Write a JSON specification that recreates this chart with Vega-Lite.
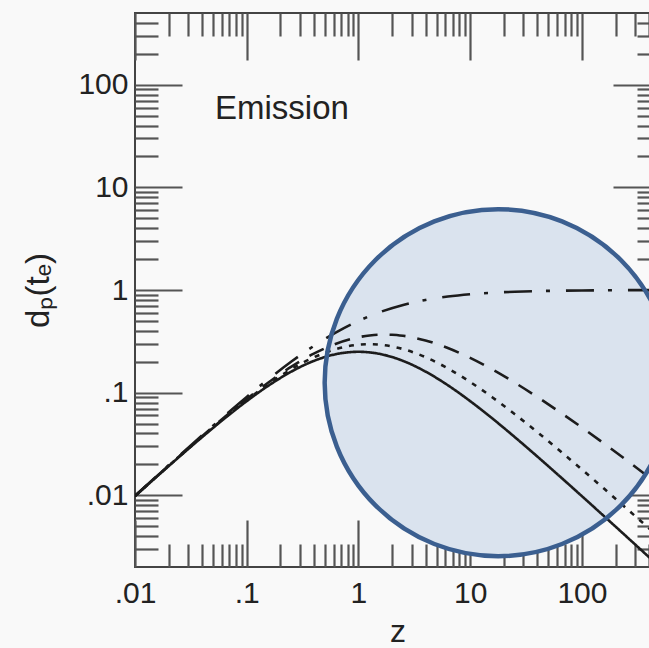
{
  "$schema": "https://vega.github.io/schema/vega-lite/v6.json",
  "autosize": "none",
  "width": 525,
  "height": 554,
  "padding": {"left": 135, "top": 13, "right": 0, "bottom": 81},
  "background": "#f9f9f9",
  "config": {
    "view": {"stroke": "#444444", "strokeWidth": 2},
    "axis": {
      "grid": false,
      "domain": false,
      "tickColor": "#555555",
      "tickWidth": 2.2,
      "labelFont": "Liberation Sans",
      "labelFontSize": 30,
      "labelColor": "#222222",
      "labelFlush": false,
      "labelOverlap": false,
      "titleFont": "Liberation Sans",
      "titleFontWeight": "normal",
      "titleColor": "#222222",
      "zindex": 1
    }
  },
  "datasets": {
    "curves": [
      {"z": 0.01, "d": 0.009803, "model": "radiation"},
      {"z": 0.015849, "d": 0.015359, "model": "radiation"},
      {"z": 0.025119, "d": 0.023904, "model": "radiation"},
      {"z": 0.039811, "d": 0.036821, "model": "radiation"},
      {"z": 0.063096, "d": 0.055829, "model": "radiation"},
      {"z": 0.1, "d": 0.082645, "model": "radiation"},
      {"z": 0.158489, "d": 0.118091, "model": "radiation"},
      {"z": 0.251189, "d": 0.160455, "model": "radiation"},
      {"z": 0.398107, "d": 0.203666, "model": "radiation"},
      {"z": 0.630957, "d": 0.237201, "model": "radiation"},
      {"z": 1, "d": 0.25, "model": "radiation"},
      {"z": 1.584893, "d": 0.237201, "model": "radiation"},
      {"z": 2.511886, "d": 0.203667, "model": "radiation"},
      {"z": 3.981072, "d": 0.160455, "model": "radiation"},
      {"z": 6.309573, "d": 0.118091, "model": "radiation"},
      {"z": 10, "d": 0.082645, "model": "radiation"},
      {"z": 15.848932, "d": 0.055829, "model": "radiation"},
      {"z": 25.118864, "d": 0.036821, "model": "radiation"},
      {"z": 39.810717, "d": 0.023903, "model": "radiation"},
      {"z": 63.095734, "d": 0.015358, "model": "radiation"},
      {"z": 100, "d": 0.009803, "model": "radiation"},
      {"z": 158.489319, "d": 0.006231, "model": "radiation"},
      {"z": 251.188643, "d": 0.00395, "model": "radiation"},
      {"z": 398.107171, "d": 0.002499, "model": "radiation"},
      {"z": 500, "d": 0.001992, "model": "radiation"},

      {"z": 0.01, "d": 0.009828, "model": "matter"},
      {"z": 0.015849, "d": 0.01542, "model": "matter"},
      {"z": 0.025119, "d": 0.024052, "model": "matter"},
      {"z": 0.039811, "d": 0.03718, "model": "matter"},
      {"z": 0.063096, "d": 0.056684, "model": "matter"},
      {"z": 0.1, "d": 0.084613, "model": "matter"},
      {"z": 0.158489, "d": 0.122432, "model": "matter"},
      {"z": 0.251189, "d": 0.169436, "model": "matter"},
      {"z": 0.398107, "d": 0.220693, "model": "matter"},
      {"z": 0.630957, "d": 0.266063, "model": "matter"},
      {"z": 1, "d": 0.292893, "model": "matter"},
      {"z": 1.258925, "d": 0.296293, "model": "matter"},
      {"z": 1.584893, "d": 0.292481, "model": "matter"},
      {"z": 2.511886, "d": 0.265602, "model": "matter"},
      {"z": 3.981072, "d": 0.221614, "model": "matter"},
      {"z": 6.309573, "d": 0.172411, "model": "matter"},
      {"z": 10, "d": 0.126998, "model": "matter"},
      {"z": 15.848932, "d": 0.089784, "model": "matter"},
      {"z": 25.118864, "d": 0.06159, "model": "matter"},
      {"z": 39.810717, "d": 0.041335, "model": "matter"},
      {"z": 63.095734, "d": 0.027306, "model": "matter"},
      {"z": 100, "d": 0.017832, "model": "matter"},
      {"z": 158.489319, "d": 0.011547, "model": "matter"},
      {"z": 251.188643, "d": 0.007431, "model": "matter"},
      {"z": 398.107171, "d": 0.00476, "model": "matter"},
      {"z": 500, "d": 0.003814, "model": "matter"},

      {"z": 0.01, "d": 0.009852, "model": "curvature"},
      {"z": 0.015849, "d": 0.01548, "model": "curvature"},
      {"z": 0.025119, "d": 0.024201, "model": "curvature"},
      {"z": 0.039811, "d": 0.037544, "model": "curvature"},
      {"z": 0.063096, "d": 0.057554, "model": "curvature"},
      {"z": 0.1, "d": 0.086646, "model": "curvature"},
      {"z": 0.158489, "d": 0.126988, "model": "curvature"},
      {"z": 0.251189, "d": 0.179104, "model": "curvature"},
      {"z": 0.398107, "d": 0.239695, "model": "curvature"},
      {"z": 0.630957, "d": 0.299926, "model": "curvature"},
      {"z": 1, "d": 0.346574, "model": "curvature"},
      {"z": 1.258925, "d": 0.360742, "model": "curvature"},
      {"z": 1.584893, "d": 0.367397, "model": "curvature"},
      {"z": 1.995262, "d": 0.366256, "model": "curvature"},
      {"z": 2.511886, "d": 0.357687, "model": "curvature"},
      {"z": 3.981072, "d": 0.322349, "model": "curvature"},
      {"z": 6.309573, "d": 0.272133, "model": "curvature"},
      {"z": 10, "d": 0.21799, "model": "curvature"},
      {"z": 15.848932, "d": 0.167624, "model": "curvature"},
      {"z": 25.118864, "d": 0.124916, "model": "curvature"},
      {"z": 39.810717, "d": 0.090882, "model": "curvature"},
      {"z": 63.095734, "d": 0.064909, "model": "curvature"},
      {"z": 100, "d": 0.045694, "model": "curvature"},
      {"z": 158.489319, "d": 0.031801, "model": "curvature"},
      {"z": 251.188643, "d": 0.021929, "model": "curvature"},
      {"z": 398.107171, "d": 0.015007, "model": "curvature"},
      {"z": 500, "d": 0.012408, "model": "curvature"},

      {"z": 0.01, "d": 0.009901, "model": "lambda"},
      {"z": 0.015849, "d": 0.015602, "model": "lambda"},
      {"z": 0.025119, "d": 0.024504, "model": "lambda"},
      {"z": 0.039811, "d": 0.038287, "model": "lambda"},
      {"z": 0.063096, "d": 0.059351, "model": "lambda"},
      {"z": 0.1, "d": 0.090909, "model": "lambda"},
      {"z": 0.158489, "d": 0.136807, "model": "lambda"},
      {"z": 0.251189, "d": 0.20076, "model": "lambda"},
      {"z": 0.398107, "d": 0.284747, "model": "lambda"},
      {"z": 0.630957, "d": 0.386864, "model": "lambda"},
      {"z": 1, "d": 0.5, "model": "lambda"},
      {"z": 1.584893, "d": 0.613137, "model": "lambda"},
      {"z": 2.511886, "d": 0.715253, "model": "lambda"},
      {"z": 3.981072, "d": 0.79924, "model": "lambda"},
      {"z": 6.309573, "d": 0.863193, "model": "lambda"},
      {"z": 10, "d": 0.909091, "model": "lambda"},
      {"z": 15.848932, "d": 0.940649, "model": "lambda"},
      {"z": 25.118864, "d": 0.961713, "model": "lambda"},
      {"z": 39.810717, "d": 0.975497, "model": "lambda"},
      {"z": 63.095734, "d": 0.984398, "model": "lambda"},
      {"z": 100, "d": 0.990099, "model": "lambda"},
      {"z": 158.489319, "d": 0.99373, "model": "lambda"},
      {"z": 251.188643, "d": 0.996035, "model": "lambda"},
      {"z": 398.107171, "d": 0.997494, "model": "lambda"},
      {"z": 500, "d": 0.998004, "model": "lambda"}
    ],
    "highlight": [{"z": 17.8, "d": 0.125}],
    "label": [{"z": 0.052, "d": 58, "text": "Emission"}]
  },
  "resolve": {"axis": {"x": "independent", "y": "independent"}},
  "layer": [
    {
      "data": {"name": "highlight"},
      "mark": {"type": "point", "shape": "circle", "filled": true, "size": 120409, "fill": "#dae3ee", "opacity": 1, "strokeWidth": 0},
      "encoding": {
        "x": {
          "field": "z", "type": "quantitative",
          "scale": {"type": "log", "domain": [0.01, 500], "nice": false},
          "axis": {
            "orient": "bottom",
            "values": [0.01, 0.1, 1, 10, 100],
            "tickSize": -47,
            "labelPadding": 58,
            "labelExpr": "datum.value < 1 ? replace(toString(datum.value), '0.', '.') : toString(datum.value)",
            "title": "z",
            "titleFontSize": 32,
            "titlePadding": 8
          }
        },
        "y": {
          "field": "d", "type": "quantitative",
          "scale": {"type": "log", "domain": [0.002, 500], "nice": false},
          "axis": {
            "orient": "left",
            "values": [0.01, 0.1, 1, 10, 100],
            "tickSize": -47,
            "labelPadding": 54,
            "labelExpr": "datum.value < 1 ? replace(toString(datum.value), '0.', '.') : toString(datum.value)",
            "title": "dₚ(tₑ)",
            "titleFontSize": 33,
            "titlePadding": 22
          }
        }
      }
    },
    {
      "data": {"name": "curves"},
      "mark": {"type": "line", "clip": true, "interpolate": "monotone", "color": "#1c1c1c", "strokeWidth": 2.6},
      "encoding": {
        "x": {
          "field": "z", "type": "quantitative",
          "axis": {
            "orient": "bottom",
            "values": [0.02, 0.03, 0.04, 0.05, 0.06, 0.07, 0.08, 0.09, 0.2, 0.3, 0.4, 0.5, 0.6, 0.7, 0.8, 0.9, 2, 3, 4, 5, 6, 7, 8, 9, 20, 30, 40, 50, 60, 70, 80, 90, 200, 300, 400],
            "tickSize": -23,
            "labels": false,
            "title": null
          }
        },
        "y": {
          "field": "d", "type": "quantitative",
          "axis": {
            "orient": "left",
            "values": [0.003, 0.004, 0.005, 0.006, 0.007, 0.008, 0.009, 0.02, 0.03, 0.04, 0.05, 0.06, 0.07, 0.08, 0.09, 0.2, 0.3, 0.4, 0.5, 0.6, 0.7, 0.8, 0.9, 2, 3, 4, 5, 6, 7, 8, 9, 20, 30, 40, 50, 60, 70, 80, 90, 200, 300, 400],
            "tickSize": -23,
            "labels": false,
            "title": null
          }
        },
        "strokeDash": {
          "field": "model", "type": "nominal", "legend": null,
          "scale": {
            "domain": ["radiation", "matter", "curvature", "lambda"],
            "range": [[1, 0], [5, 7], [16, 12], [28, 14, 4, 16]]
          }
        }
      }
    },
    {
      "data": {"name": "highlight"},
      "mark": {"type": "point", "shape": "circle", "filled": false, "size": 120409, "stroke": "#3b5f90", "strokeWidth": 4.5, "opacity": 1},
      "encoding": {
        "x": {
          "field": "z", "type": "quantitative",
          "axis": {"orient": "top", "values": [0.01, 0.1, 1, 10, 100], "tickSize": -47, "labels": false, "title": null}
        },
        "y": {
          "field": "d", "type": "quantitative",
          "axis": {"orient": "right", "values": [0.01, 0.1, 1, 10, 100], "tickSize": -47, "labels": false, "title": null}
        }
      }
    },
    {
      "data": {"name": "label"},
      "mark": {"type": "text", "align": "left", "baseline": "middle", "font": "Liberation Sans", "fontSize": 33, "color": "#222222"},
      "encoding": {
        "x": {
          "field": "z", "type": "quantitative",
          "axis": {
            "orient": "top",
            "values": [0.02, 0.03, 0.04, 0.05, 0.06, 0.07, 0.08, 0.09, 0.2, 0.3, 0.4, 0.5, 0.6, 0.7, 0.8, 0.9, 2, 3, 4, 5, 6, 7, 8, 9, 20, 30, 40, 50, 60, 70, 80, 90, 200, 300, 400],
            "tickSize": -23, "labels": false, "title": null
          }
        },
        "y": {
          "field": "d", "type": "quantitative",
          "axis": {
            "orient": "right",
            "values": [0.003, 0.004, 0.005, 0.006, 0.007, 0.008, 0.009, 0.02, 0.03, 0.04, 0.05, 0.06, 0.07, 0.08, 0.09, 0.2, 0.3, 0.4, 0.5, 0.6, 0.7, 0.8, 0.9, 2, 3, 4, 5, 6, 7, 8, 9, 20, 30, 40, 50, 60, 70, 80, 90, 200, 300, 400],
            "tickSize": -23, "labels": false, "title": null
          }
        },
        "text": {"field": "text", "type": "nominal"}
      }
    }
  ]
}
